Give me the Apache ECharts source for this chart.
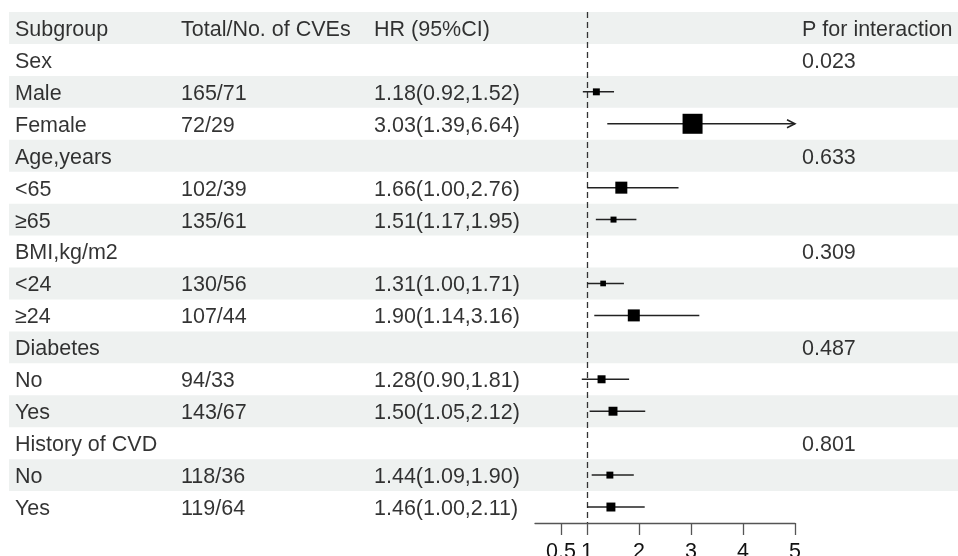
<!DOCTYPE html>
<html>
<head>
<meta charset="utf-8">
<script src="https://cdn.jsdelivr.net/npm/echarts@6/dist/echarts.min.js"></script>
<style>
html,body{margin:0;padding:0;background:#fff;}
#chart{width:958px;height:556px;}
</style>
</head>
<body>
<div id="chart"></div>
<script>
// ---------------- data ----------------
const headers = ['Subgroup', 'Total/No. of CVEs', 'HR (95%CI)', 'P for interaction'];
const subgroups = ['Sex', 'Male', 'Female', 'Age,years', '<65', '\u226565', 'BMI,kg/m2', '<24', '\u226524',
  'Diabetes', 'No', 'Yes', 'History of CVD', 'No', 'Yes'];
const totals = ['', '165/71', '72/29', '', '102/39', '135/61', '', '130/56', '107/44', '', '94/33', '143/67', '', '118/36', '119/64'];
const hr =    [null, 1.18, 3.03, null, 1.66, 1.51, null, 1.31, 1.90, null, 1.28, 1.50, null, 1.44, 1.46];
const lower = [null, 0.92, 1.39, null, 1.00, 1.17, null, 1.00, 1.14, null, 0.90, 1.05, null, 1.09, 1.00];
const upper = [null, 1.52, 6.64, null, 2.76, 1.95, null, 1.71, 3.16, null, 1.81, 2.12, null, 1.90, 2.11];
const weights = [null, 12, 100, null, 36, 9, null, 8, 36, null, 16, 20, null, 12, 20];
const pInteraction = ['0.023', '', '', '0.633', '', '', '0.309', '', '', '0.487', '', '', '0.801', '', ''];
const tickValues = [0.5, 1, 2, 3, 4, 5];

// ---------------- layout ----------------
const FONT = "'Liberation Sans', Arial, Helvetica, sans-serif";
const FS = 21.5;
const nRows = subgroups.length + 1;           // header + rows
const colX = [6, 172, 365, 793];              // text column positions inside table grid (px)
const xMin = 0, xMax = 5;

const textData = [];
headers.forEach((h, c) => textData.push({value: [colX[c], 0.5], name: h}));
subgroups.forEach((s, i) => {
  const r = i + 1.5;
  textData.push({value: [colX[0], r], name: s});
  if (totals[i]) textData.push({value: [colX[1], r], name: totals[i]});
  if (hr[i] != null) textData.push({value: [colX[2], r], name: hr[i].toFixed(2) + '(' + lower[i].toFixed(2) + ',' + upper[i].toFixed(2) + ')'});
  if (pInteraction[i]) textData.push({value: [colX[3], r], name: pInteraction[i]});
});

const shadeRows = [];
for (let r = 0; r < nRows; r += 2) shadeRows.push([r, r + 1]);

const forestData = [];
subgroups.forEach((s, i) => {
  if (hr[i] != null) forestData.push([hr[i], lower[i], upper[i], weights[i], i + 1.5]);
});

const chart = echarts.init(document.getElementById('chart'), null, {renderer: 'canvas'});

const hiddenY = {type: 'value', min: 0, max: nRows, inverse: true, show: false, splitLine: {show: false}};

const option = {
  animation: false,
  backgroundColor: '#ffffff',
  grid: [
    {left: 535, right: 163, top: 12, bottom: 33, containLabel: false, outerBoundsMode: 'none'},
    {left: 9, right: 0, top: 12, bottom: 33, containLabel: false, outerBoundsMode: 'none'}
  ],
  xAxis: [
    {
      gridIndex: 0, type: 'value', min: xMin, max: xMax,
      axisLine: {show: true, onZero: false, lineStyle: {color: '#555', width: 1.3}},
      axisTick: {show: true, length: 12, customValues: tickValues, lineStyle: {color: '#555', width: 1.3}},
      axisLabel: {show: true, customValues: tickValues, margin: 18, color: '#111', fontSize: FS, fontFamily: FONT,
        formatter: v => String(v)},
      splitLine: {show: false}
    },
    {gridIndex: 1, type: 'value', min: 0, max: 949, show: false, splitLine: {show: false}}
  ],
  yAxis: [
    Object.assign({gridIndex: 0}, hiddenY),
    Object.assign({gridIndex: 1}, hiddenY)
  ],
  series: [
    {
      type: 'custom', xAxisIndex: 1, yAxisIndex: 1, z: 1, silent: true,
      data: shadeRows,
      encode: {y: [0, 1]},
      renderItem: function (params, api) {
        const cs = params.coordSys;
        const y0 = api.coord([0, api.value(0)])[1];
        const y1 = api.coord([0, api.value(1)])[1];
        return {type: 'rect', shape: {x: cs.x, y: y0, width: cs.width, height: y1 - y0},
          style: {fill: '#eef1f0'}};
      }
    },
    {
      type: 'scatter', xAxisIndex: 1, yAxisIndex: 1, symbolSize: 1, z: 3,
      itemStyle: {color: 'rgba(255,255,255,0)'},
      data: textData,
      label: {
        show: true, position: 'inside', align: 'left', verticalAlign: 'middle', offset: [0, 2],
        formatter: p => p.name, color: '#000', fontSize: FS, fontFamily: FONT
      },
      emphasis: {disabled: true}, silent: true
    },
    {
      type: 'custom', xAxisIndex: 0, yAxisIndex: 0, z: 5, clip: false,
      data: forestData,
      encode: {x: [0, 1, 2], y: 4},
      renderItem: function (params, api) {
        const row = api.value(4);
        const c = api.coord([api.value(0), row]);
        const lo = api.coord([Math.max(api.value(1), xMin), row]);
        const hiVal = api.value(2);
        const hi = api.coord([Math.min(hiVal, xMax), row]);
        const size = 20 * Math.sqrt(api.value(3) / 100);
        const children = [
          {type: 'line', shape: {x1: lo[0], y1: c[1], x2: hi[0], y2: c[1]},
            style: {stroke: '#222', lineWidth: 1.5}},
          {type: 'rect', shape: {x: c[0] - size / 2, y: c[1] - size / 2, width: size, height: size},
            style: {fill: '#000'}}
        ];
        if (hiVal > xMax) {
          children.push({type: 'polyline', shape: {points: [[hi[0] - 8, c[1] - 4], [hi[0], c[1]], [hi[0] - 8, c[1] + 4]]},
            style: {stroke: '#222', lineWidth: 1.5, fill: null}});
        }
        return {type: 'group', children: children};
      },
      markLine: {
        silent: true, symbol: 'none', label: {show: false}, animation: false,
        lineStyle: {type: [6, 4], color: '#333', width: 1.3},
        data: [{xAxis: 1}]
      }
    }
  ]
};
chart.setOption(option);
</script>
</body>
</html>
